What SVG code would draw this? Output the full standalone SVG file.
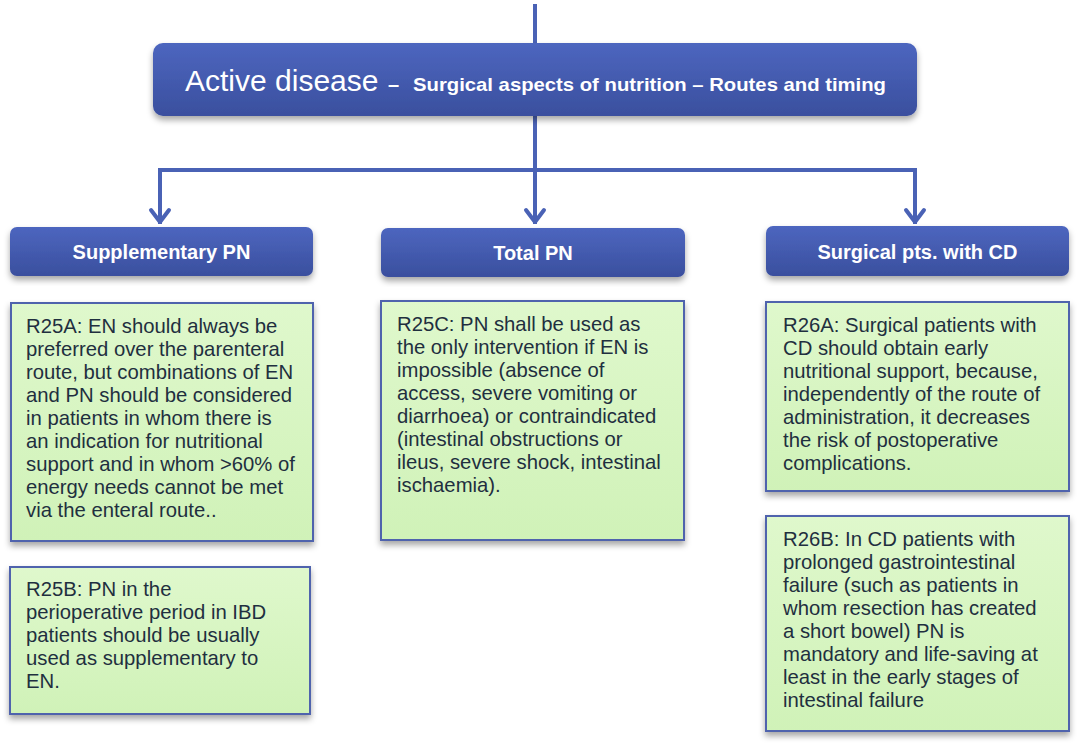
<svg xmlns="http://www.w3.org/2000/svg" width="1080" height="749" viewBox="0 0 1080 749">
<defs>
<linearGradient id="blue" x1="0" y1="0" x2="0" y2="1">
<stop offset="0" stop-color="#4d66bf"/>
<stop offset="1" stop-color="#3a4f9e"/>
</linearGradient>
<linearGradient id="green" x1="0" y1="0" x2="0" y2="1">
<stop offset="0" stop-color="#dff8cc"/>
<stop offset="1" stop-color="#d0f2b8"/>
</linearGradient>
<filter id="sh" x="-10%" y="-10%" width="120%" height="130%">
<feDropShadow dx="0" dy="4" stdDeviation="3" flood-color="#000" flood-opacity="0.35"/>
</filter>
<style>
.hdr{fill:url(#blue);filter:url(#sh);}
.note{fill:url(#green);stroke:#4f64ad;stroke-width:2;filter:url(#sh);}
.ht{font-family:"Liberation Sans",Arial,sans-serif;font-weight:bold;font-size:20px;fill:#fff;text-anchor:middle;}
.nt{font-family:"Liberation Sans",Arial,sans-serif;font-size:20.3px;fill:#1f2f3f;}
.ln{stroke:#4a62b5;stroke-width:4;fill:none;}
.ah{stroke:#4a62b5;stroke-width:4;fill:none;stroke-linecap:round;stroke-linejoin:round;}
</style>
</defs>
<rect width="1080" height="749" fill="#fff"/>
<g id="connectors">
<line class="ln" x1="535" y1="4" x2="535" y2="44"/>
<line class="ln" x1="535" y1="115" x2="535" y2="224"/>
<polyline class="ln" points="160,224 160,170 915,170 915,224"/>
<polyline class="ah" points="151,210 160,222 169,210"/>
<polyline class="ah" points="526,210 535,222 544,210"/>
<polyline class="ah" points="906,210 915,222 924,210"/>
</g>
<g id="title">
<rect class="hdr" x="153" y="43" width="764" height="73" rx="10"/>
<text x="185" y="91" font-family="'Liberation Sans',Arial,sans-serif" fill="#fff"><tspan font-size="30">Active disease</tspan><tspan font-size="20" font-weight="bold" x="388">–</tspan><tspan font-size="19" font-weight="bold" x="413" textLength="473" lengthAdjust="spacingAndGlyphs">Surgical aspects of nutrition – Routes and timing</tspan></text>
</g>
<g id="supp">
<rect class="hdr" x="10" y="227" width="303" height="49" rx="7"/>
<text class="ht" x="161.5" y="259">Supplementary PN</text>
</g>
<g id="total">
<rect class="hdr" x="381" y="228" width="304" height="49" rx="7"/>
<text class="ht" x="533" y="260">Total PN</text>
</g>
<g id="surg">
<rect class="hdr" x="766" y="226" width="303" height="50" rx="7"/>
<text class="ht" x="917.5" y="259">Surgical pts. with CD</text>
</g>
<g id="r25a">
<rect class="note" x="11" y="303" width="302" height="238"/>
<text class="nt" x="26" y="333"><tspan x="26">R25A: EN should always be</tspan><tspan x="26" dy="23">preferred over the parenteral</tspan><tspan x="26" dy="23">route, but combinations of EN</tspan><tspan x="26" dy="23">and PN should be considered</tspan><tspan x="26" dy="23">in patients in whom there is</tspan><tspan x="26" dy="23">an indication for nutritional</tspan><tspan x="26" dy="23">support and in whom &gt;60% of</tspan><tspan x="26" dy="23">energy needs cannot be met</tspan><tspan x="26" dy="23">via the enteral route..</tspan></text>
</g>
<g id="r25b">
<rect class="note" x="10" y="567" width="300" height="147"/>
<text class="nt" x="26" y="596"><tspan x="26">R25B: PN in the</tspan><tspan x="26" dy="23">perioperative period in IBD</tspan><tspan x="26" dy="23">patients should be usually</tspan><tspan x="26" dy="23">used as supplementary to</tspan><tspan x="26" dy="23">EN.</tspan></text>
</g>
<g id="r25c">
<rect class="note" x="381" y="301" width="303" height="239"/>
<text class="nt" x="397" y="331"><tspan x="397">R25C: PN shall be used as</tspan><tspan x="397" dy="23">the only intervention if EN is</tspan><tspan x="397" dy="23">impossible (absence of</tspan><tspan x="397" dy="23">access, severe vomiting or</tspan><tspan x="397" dy="23">diarrhoea) or contraindicated</tspan><tspan x="397" dy="23">(intestinal obstructions or</tspan><tspan x="397" dy="23">ileus, severe shock, intestinal</tspan><tspan x="397" dy="23">ischaemia).</tspan></text>
</g>
<g id="r26a">
<rect class="note" x="766" y="302" width="303" height="189"/>
<text class="nt" x="783" y="332"><tspan x="783">R26A: Surgical patients with</tspan><tspan x="783" dy="23">CD should obtain early</tspan><tspan x="783" dy="23">nutritional support, because,</tspan><tspan x="783" dy="23">independently of the route of</tspan><tspan x="783" dy="23">administration, it decreases</tspan><tspan x="783" dy="23">the risk of postoperative</tspan><tspan x="783" dy="23">complications.</tspan></text>
</g>
<g id="r26b">
<rect class="note" x="766" y="516" width="303" height="215"/>
<text class="nt" x="783" y="546"><tspan x="783">R26B: In CD patients with</tspan><tspan x="783" dy="23">prolonged gastrointestinal</tspan><tspan x="783" dy="23">failure (such as patients in</tspan><tspan x="783" dy="23">whom resection has created</tspan><tspan x="783" dy="23">a short bowel) PN is</tspan><tspan x="783" dy="23">mandatory and life-saving at</tspan><tspan x="783" dy="23">least in the early stages of</tspan><tspan x="783" dy="23">intestinal failure</tspan></text>
</g>
</svg>
